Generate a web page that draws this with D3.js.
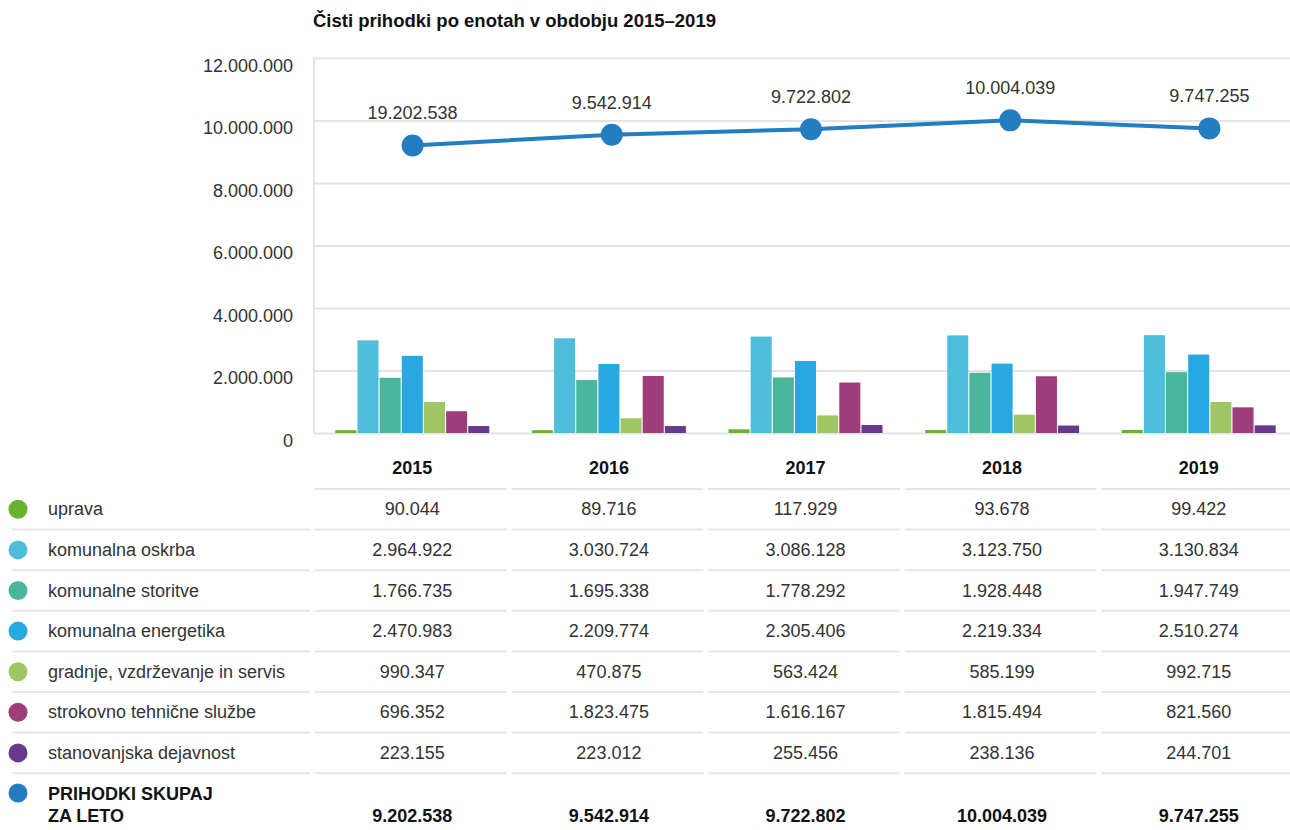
<!DOCTYPE html>
<html>
<head>
<meta charset="utf-8">
<script src="https://cdn.jsdelivr.net/npm/d3@7"></script>
<style>
  body { margin: 0; background: #fff; }
  svg { display: block; font-family: "Liberation Sans", Arial, sans-serif; }
</style>
</head>
<body>
<div id="container"></div>
<script>
// <--------- data --------->
let years = ["2015", "2016", "2017", "2018", "2019"];
let units = [
  "uprava",
  "komunalna oskrba",
  "komunalne storitve",
  "komunalna energetika",
  "gradnje, vzdrževanje in servis",
  "strokovno tehnične službe",
  "stanovanjska dejavnost"
];
let unitColors = ["#68b22f", "#4fbedb", "#4ab79c", "#27a8e0", "#9ec764", "#9e3c7c", "#69398d"];

let uprava     = [90044, 89716, 117929, 93678, 99422];
let oskrba     = [2964922, 3030724, 3086128, 3123750, 3130834];
let storitve   = [1766735, 1695338, 1778292, 1928448, 1947749];
let energetika = [2470983, 2209774, 2305406, 2219334, 2510274];
let gradnje    = [990347, 470875, 563424, 585199, 992715];
let strokovno  = [696352, 1823475, 1616167, 1815494, 821560];
let stanovanje = [223155, 223012, 255456, 238136, 244701];
let totals     = [9202538, 9542914, 9722802, 10004039, 9747255];
// label above first point reads 19.202.538 in the original
let totalLabels = ["19.202.538", "9.542.914", "9.722.802", "10.004.039", "9.747.255"];
let yTicks = [0, 2000000, 4000000, 6000000, 8000000, 10000000, 12000000];

let series = [uprava, oskrba, storitve, energetika, gradnje, strokovno, stanovanje];
let totalColor = "#237dc1";

// <--------- canvas --------->
let W = 1290, H = 830;
let viz = d3.select("#container").append("svg")
  .attr("width", W)
  .attr("height", H);

let fmt = d3.formatLocale({decimal: ",", thousands: ".", grouping: [3]}).format(",d");

let x = d3.scaleBand().domain(years).range([314, 1297]);
// the line points sit on a slightly wider spacing than the bar groups
let xLine = d3.scaleBand().domain(years).range([313, 1309]);
let y = d3.scaleLinear().domain([0, 12000000]).range([433, 58]);
let xInner = d3.scaleBand().domain(d3.range(units.length)).range([-77, 77]).paddingInner(0.05);

// title
viz.append("text")
  .attr("x", 313).attr("y", 27)
  .attr("font-size", 18.5).attr("font-weight", "bold")
  .attr("fill", "#111")
  .text("Čisti prihodki po enotah v obdobju 2015–2019");

// gridlines + y labels
let yAxis = d3.axisLeft(y).tickValues(yTicks).tickFormat(fmt).tickSize(-(W - 314)).tickPadding(21);
let gy = viz.append("g").attr("transform", "translate(314,0)").call(yAxis);
gy.select(".domain").remove();
gy.selectAll(".tick line").attr("stroke", "#e3e3e3").attr("stroke-width", 2);
gy.selectAll(".tick text")
  .attr("font-size", 18).attr("fill", "#333")
  .attr("font-family", "Liberation Sans, Arial, sans-serif")
  .attr("dy", "0.74em");

viz.append("line")
  .attr("x1", 314).attr("x2", 314)
  .attr("y1", y(12000000) - 1).attr("y2", y(0) + 1)
  .attr("stroke", "#e3e3e3").attr("stroke-width", 2);

// bars
let groups = viz.selectAll(".yeargroup").data(years).enter()
  .append("g")
    .attr("class", "yeargroup")
    .attr("transform", d => "translate(" + (x(d) + x.bandwidth() / 2) + ",0)");

groups.selectAll("rect")
  .data((d, i) => series.map((s, k) => ({k: k, v: s[i]})))
  .enter().append("rect")
    .attr("x", d => xInner(d.k))
    .attr("width", xInner.bandwidth())
    .attr("y", d => y(d.v))
    .attr("height", d => y(0) - y(d.v))
    .attr("fill", d => unitColors[d.k]);

// total line
let pts = years.map((yr, i) => [xLine(yr) + xLine.bandwidth() / 2, y(totals[i])]);
viz.append("path")
  .attr("d", d3.line()(pts))
  .attr("fill", "none")
  .attr("stroke", totalColor)
  .attr("stroke-width", 4);

viz.selectAll(".dot").data(pts).enter()
  .append("circle")
    .attr("class", "dot")
    .attr("cx", d => d[0]).attr("cy", d => d[1])
    .attr("r", 11)
    .attr("fill", totalColor);

viz.selectAll(".dotlabel").data(pts).enter()
  .append("text")
    .attr("class", "dotlabel")
    .attr("x", d => d[0]).attr("y", d => d[1] - 26)
    .attr("text-anchor", "middle")
    .attr("font-size", 18).attr("fill", "#333")
    .text((d, i) => totalLabels[i]);

// <--------- table --------->
let rowTop = 489, rowH = 40.6;
let lineColor = "#e6e6e6";

// year headers
viz.selectAll(".yearhead").data(years).enter()
  .append("text")
    .attr("x", d => x(d) + x.bandwidth() / 2)
    .attr("y", 474)
    .attr("text-anchor", "middle")
    .attr("font-size", 18).attr("font-weight", "bold").attr("fill", "#111")
    .text(d => d);

// separators
for (let r = 0; r < units.length + 1; r++) {
  let ly = rowTop + r * rowH;
  if (r > 0) {
    viz.append("line")
      .attr("x1", 12).attr("x2", 310)
      .attr("y1", ly).attr("y2", ly)
      .attr("stroke", lineColor).attr("stroke-width", 2);
  }
  years.forEach(yr => {
    viz.append("line")
      .attr("x1", x(yr) + 1).attr("x2", x(yr) + x.bandwidth() - 4)
      .attr("y1", ly).attr("y2", ly)
      .attr("stroke", lineColor).attr("stroke-width", 2);
  });
}

// unit rows
units.forEach((u, k) => {
  let cy = rowTop + rowH * k + rowH / 2;
  viz.append("circle")
    .attr("cx", 18).attr("cy", cy).attr("r", 9.5)
    .attr("fill", unitColors[k]);
  viz.append("text")
    .attr("x", 48).attr("y", cy + 6)
    .attr("font-size", 18).attr("fill", "#333")
    .text(u);
  years.forEach((yr, i) => {
    viz.append("text")
      .attr("x", x(yr) + x.bandwidth() / 2).attr("y", cy + 6)
      .attr("text-anchor", "middle")
      .attr("font-size", 18).attr("fill", "#333")
      .text(fmt(series[k][i]));
  });
});

// totals row
viz.append("circle")
  .attr("cx", 18).attr("cy", 793).attr("r", 9.5)
  .attr("fill", totalColor);
let tl = viz.append("text")
  .attr("x", 48).attr("y", 800)
  .attr("font-size", 18).attr("font-weight", "bold").attr("fill", "#111");
tl.append("tspan").attr("x", 48).text("PRIHODKI SKUPAJ");
tl.append("tspan").attr("x", 48).attr("dy", 22).text("ZA LETO");

viz.selectAll(".totalval").data(totals).enter()
  .append("text")
    .attr("x", (d, i) => x(years[i]) + x.bandwidth() / 2)
    .attr("y", 822)
    .attr("text-anchor", "middle")
    .attr("font-size", 18).attr("font-weight", "bold").attr("fill", "#111")
    .text(d => fmt(d));
</script>
</body>
</html>
